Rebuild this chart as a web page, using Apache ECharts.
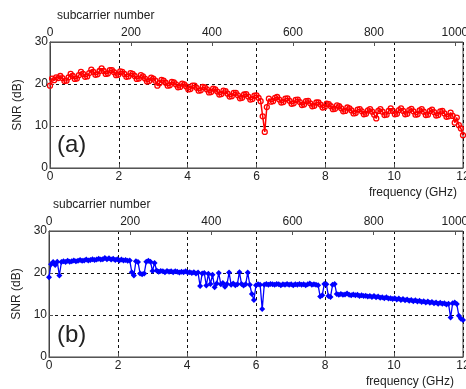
<!DOCTYPE html>
<html>
<head>
<meta charset="utf-8">
<script src="https://cdn.jsdelivr.net/npm/echarts@6/dist/echarts.min.js"></script>
<style>
  html, body { margin: 0; padding: 0; background: #fff; }
  #chart { width: 466px; height: 389px; }
</style>
</head>
<body>
<div id="chart"></div>
<script>
// SNR per frequency sample, 0..12 GHz evenly spaced
const snrA = [
  19.6, 21.3, 20.9, 21.6, 21.4, 21.9, 21.4, 20.7, 20.8, 21.6,
  22.4, 21.9, 21.2, 21.3, 22.1, 22.9, 22.4, 21.7, 21.8, 22.6,
  23.4, 22.9, 22.2, 22.3, 23.1, 23.7, 23.1, 22.4, 22.5, 23.3,
  23.3, 22.8, 22.1, 22.2, 23.0, 22.9, 22.4, 21.7, 21.8, 22.6,
  22.4, 21.9, 21.2, 21.3, 22.1, 21.8, 21.3, 20.6, 20.7, 21.5,
  21.3, 20.8, 19.6, 20.2, 21.0, 20.8, 20.3, 19.6, 19.7, 20.5,
  20.4, 19.9, 19.2, 19.3, 20.1, 19.9, 19.4, 18.7, 18.8, 19.6,
  19.6, 19.1, 18.4, 18.5, 19.3, 19.2, 18.7, 18.0, 18.1, 18.9,
  18.7, 18.2, 17.5, 17.6, 18.4, 18.3, 17.7, 17.0, 17.1, 17.9,
  17.9, 17.3, 16.6, 16.7, 17.5, 17.6, 17.0, 16.3, 16.4, 17.2,
  17.3, 16.7, 15.9, 12.3, 8.6, 14.5, 16.5, 15.8, 15.9, 16.7,
  16.9, 16.3, 15.6, 15.7, 16.5, 16.6, 16.0, 15.3, 15.4, 16.2,
  16.3, 15.7, 15.0, 15.1, 15.9, 16.0, 15.4, 14.7, 14.8, 15.6,
  15.6, 15.1, 14.4, 14.5, 15.3, 15.2, 14.7, 14.0, 14.1, 14.9,
  14.7, 14.2, 13.5, 13.6, 14.4, 14.2, 13.7, 13.0, 13.1, 13.9,
  14.0, 13.5, 12.8, 12.9, 13.7, 14.0, 13.4, 12.7, 11.8, 13.6,
  14.0, 13.4, 12.6, 12.7, 13.6, 14.2, 13.6, 12.8, 12.9, 13.8,
  14.2, 13.6, 12.8, 12.9, 13.8, 14.1, 13.5, 12.7, 12.8, 13.7,
  14.0, 13.4, 12.6, 12.7, 13.6, 13.9, 13.3, 12.5, 12.6, 13.5,
  13.6, 13.0, 12.2, 12.3, 13.2, 12.4, 10.8, 12.0, 10.2, 9.4,
  7.8
];
const snrB = [
  19.0, 22.1, 22.6, 21.9, 22.7, 19.4, 22.6, 22.8, 22.6, 22.9,
  22.7, 22.8, 23.0, 22.8, 22.9, 23.1, 22.9, 23.0, 23.2, 23.0,
  23.1, 23.3, 23.1, 23.2, 23.4, 23.2, 23.3, 23.6, 23.3, 23.5,
  23.2, 23.4, 23.1, 23.3, 23.0, 23.2, 23.0, 23.1, 22.9, 23.0,
  20.2, 19.4, 22.8, 22.6, 19.9, 19.7, 19.9, 22.7, 22.9, 22.7,
  20.5, 22.4, 20.6, 20.3, 20.5, 20.4, 20.2, 20.5, 20.3, 20.4,
  20.2, 20.4, 20.3, 20.1, 20.3, 20.2, 20.4, 20.1, 20.2, 20.0,
  20.2, 19.9, 20.1, 16.9, 19.9, 20.0, 17.0, 19.8, 17.4, 19.6,
  16.6, 17.5, 20.0, 17.3, 17.6, 16.7, 17.4, 20.1, 17.2, 17.5,
  17.1, 17.3, 20.2, 17.4, 17.0, 17.3, 20.1, 17.2, 15.0, 13.6,
  17.1, 17.3, 17.2, 11.4, 17.2, 17.4, 17.2, 17.4, 17.3, 17.2,
  17.4, 17.3, 17.1, 17.3, 17.2, 17.4, 17.2, 17.3, 17.1, 17.3,
  17.2, 17.4, 17.2, 17.3, 17.1, 17.3, 17.5, 17.2, 17.3, 17.2,
  17.1, 14.4, 14.7, 17.4, 17.3, 14.5, 14.3, 17.2, 17.4, 15.0,
  14.8, 15.0, 14.8, 14.9, 15.1, 14.8, 14.7, 14.9, 14.7, 14.8,
  14.5, 14.7, 14.5, 14.6, 14.4, 14.5, 14.3, 14.5, 14.2, 14.4,
  14.1, 14.2, 14.0, 14.2, 13.9, 14.0, 13.8, 14.0, 13.7, 13.9,
  13.6, 13.8, 13.5, 13.7, 13.4, 13.6, 13.3, 13.5, 13.2, 13.4,
  13.1, 13.3, 13.0, 13.2, 12.9, 13.1, 12.8, 13.0, 12.7, 12.9,
  12.7, 12.8, 12.5, 12.7, 9.4, 12.8, 13.0, 12.6, 9.8, 9.1,
  8.8
];
const freqMax = 12;
const subcarrierMax = 1020;

const font = '"Liberation Sans", Arial, sans-serif';
const textColor = '#222';

function toPoints(values) {
  return values.map((v, i) => [i * freqMax / (values.length - 1), v]);
}

function freqAxis(gridIndex) {
  return {
    type: 'value', gridIndex: gridIndex, position: 'bottom',
    min: 0, max: freqMax, interval: 2,
    axisLine: { show: true, lineStyle: { color: '#555', width: 1 } },
    axisTick: { show: true, inside: true, length: 4, lineStyle: { color: '#555' } },
    axisLabel: { color: textColor, fontSize: 12, fontFamily: font, margin: 3,
      showMaxLabel: true, alignMaxLabel: 'center', formatter: v => String(v) },
    splitLine: { show: true, lineStyle: { color: '#111', type: [3, 3], width: 1 } }
  };
}

function subAxis(gridIndex) {
  return {
    type: 'value', gridIndex: gridIndex, position: 'top',
    min: 0, max: subcarrierMax, interval: 200,
    axisLine: { show: true, lineStyle: { color: '#555', width: 1 } },
    axisTick: { show: true, inside: true, length: 4, lineStyle: { color: '#555' } },
    axisLabel: { color: textColor, fontSize: 12, fontFamily: font, margin: 3,
      showMaxLabel: false, formatter: v => String(v) },
    splitLine: { show: false }
  };
}

function snrAxis(gridIndex) {
  return {
    type: 'value', gridIndex: gridIndex,
    min: 0, max: 30, interval: 10,
    name: 'SNR (dB)', nameLocation: 'middle', nameGap: 20,
    nameTextStyle: { color: textColor, fontSize: 12, fontFamily: font },
    axisLine: { show: true, lineStyle: { color: '#444', width: 1 } },
    axisTick: { show: true, inside: true, length: 4, lineStyle: { color: '#555' } },
    axisLabel: { color: textColor, fontSize: 12, fontFamily: font, margin: 2 },
    splitLine: { show: true, lineStyle: { color: '#111', type: [3, 3], width: 1 } }
  };
}

function label(text, x, y, size) {
  return {
    type: 'text', x: x, y: y,
    style: { text: text, font: size + 'px ' + font, fill: textColor, verticalAlign: 'middle', textVerticalAlign: 'middle' }
  };
}

const chart = echarts.init(document.getElementById('chart'));
chart.setOption({
  animation: false,
  backgroundColor: '#fff',
  grid: [
    { left: 50, right: 3, top: 42, height: 126, containLabel: false, outerBoundsMode: 'none',
      show: true, borderColor: '#444', borderWidth: 1, backgroundColor: 'transparent' },
    { left: 49, right: 3, top: 231, height: 126, containLabel: false, outerBoundsMode: 'none',
      show: true, borderColor: '#444', borderWidth: 1, backgroundColor: 'transparent' }
  ],
  xAxis: [freqAxis(0), subAxis(0), freqAxis(1), subAxis(1)],
  yAxis: [snrAxis(0), snrAxis(1)],
  graphic: [
    label('subcarrier number', 57, 16, 12),
    label('frequency (GHz)', 369, 193, 12),
    label('(a)', 57, 145, 24),
    label('subcarrier number', 53, 205, 12),
    label('frequency (GHz)', 366, 382, 12),
    label('(b)', 57, 335, 24)
  ],
  series: [
    {
      type: 'line', xAxisIndex: 0, yAxisIndex: 0,
      data: toPoints(snrA),
      symbol: 'circle', symbolSize: 5, showAllSymbol: true,
      lineStyle: { color: '#ff0000', width: 1.5 },
      itemStyle: { color: 'rgba(255,255,255,0)', borderColor: '#ff0000', borderWidth: 1.3 }
    },
    {
      type: 'line', xAxisIndex: 2, yAxisIndex: 1,
      data: toPoints(snrB),
      symbol: 'diamond', symbolSize: 6, showAllSymbol: true,
      lineStyle: { color: '#0000ff', width: 1.3 },
      itemStyle: { color: '#0000ff', borderColor: '#0000ff', borderWidth: 0 }
    }
  ]
});
</script>
</body>
</html>
